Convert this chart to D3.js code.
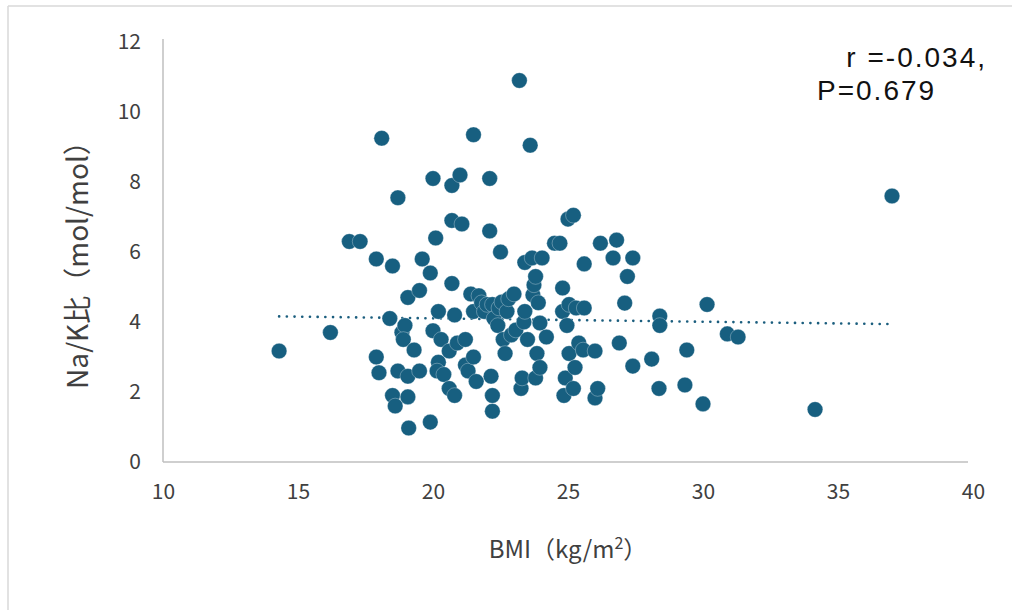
<!DOCTYPE html>
<html><head><meta charset="utf-8">
<script src="https://cdn.jsdelivr.net/npm/d3@7"></script>
<style>
html,body{margin:0;padding:0;background:#fff;}
svg{display:block;}
</style></head>
<body>
<svg id="chart" width="1012" height="610"></svg>
<script>
// BMI (kg/m2)
const bmi = [14.3,16.2,16.9,17.3,17.9,18.1,17.9,18.0,18.4,18.5,18.5,18.6,18.7,18.7,18.85,18.96,18.9,19.07,19.07,19.07,19.1,19.3,19.5,19.5,19.6,19.9,19.9,20.0,20.1,20.0,20.2,20.2,20.15,20.3,20.4,20.6,20.6,20.7,20.7,20.7,20.8,20.8,20.9,21.0,21.07,21.2,21.2,21.3,21.4,21.5,21.5,21.5,21.6,21.7,21.8,21.9,22.0,22.1,22.1,22.15,22.2,22.2,22.2,22.26,22.4,22.5,22.44,22.55,22.6,22.67,22.74,22.8,22.9,23.0,23.07,23.2,23.26,23.3,23.37,23.4,23.4,23.5,23.6,23.67,23.7,23.74,23.8,23.8,23.85,23.9,23.96,23.96,24.04,24.2,24.5,24.7,24.8,24.8,24.85,24.9,25.0,25.04,24.96,25.04,25.2,25.2,25.26,25.3,25.4,25.56,25.6,25.6,26.0,26.0,26.1,26.2,26.67,26.8,26.9,27.1,27.2,27.4,27.4,28.1,28.4,28.4,28.37,29.4,29.33,30.0,30.15,30.9,31.3,34.15,37.0];
// Na/K ratio (mol/mol)
const naK = [3.17,3.7,6.3,6.3,5.8,9.25,3.0,2.55,4.1,5.6,1.9,1.6,7.55,2.6,3.7,3.9,3.5,4.7,2.45,1.86,0.97,3.2,4.9,2.6,5.8,5.4,1.14,8.1,6.4,3.75,4.3,2.85,2.6,3.5,2.5,3.17,2.1,7.9,6.9,5.1,4.2,1.9,3.4,8.2,6.8,3.5,2.77,2.6,4.8,9.35,4.3,3.0,2.3,4.75,4.55,4.3,4.5,8.1,6.6,2.45,1.9,1.45,4.5,4.1,3.9,6.0,4.4,4.57,3.5,3.1,4.3,4.66,3.63,4.8,3.77,10.9,2.1,2.4,4.0,4.3,5.7,3.5,9.05,5.83,4.77,5.06,5.3,2.4,3.1,4.55,3.97,2.7,5.83,3.57,6.25,6.25,4.97,4.3,1.9,2.4,6.94,4.5,3.9,3.1,7.05,2.1,2.7,4.4,3.4,3.2,4.4,5.66,3.17,1.83,2.1,6.25,5.83,6.34,3.4,4.54,5.3,5.83,2.74,2.94,4.17,3.9,2.1,3.2,2.2,1.66,4.5,3.66,3.57,1.5,7.6];
const xTicks = [10,15,20,25,30,35,40];
const yTicks = [0,2,4,6,8,10,12];
const trendX = [14.3, 37.0];
const trendY = [4.16, 3.94];
const annotation = ["r =-0.034,", "P=0.679"];

const svg = d3.select("#chart");
const x = d3.scaleLinear().domain([10,40]).range([163,973]);
const y = d3.scaleLinear().domain([0,12]).range([462,42]);
const tickFont = "'Noto Sans CJK JP','Noto Sans',sans-serif";

// outer frame (left & top edges visible)
svg.append("line").attr("x1",8).attr("y1",6).attr("x2",8).attr("y2",610).attr("stroke","#d9d9d9").attr("stroke-width",1.5);
svg.append("line").attr("x1",8).attr("y1",6).attr("x2",1012).attr("y2",6).attr("stroke","#d9d9d9").attr("stroke-width",1.5);

// axes
const xAxis = d3.axisBottom(x).tickValues(xTicks).tickSize(0).tickPadding(22);
const yAxis = d3.axisLeft(y).tickValues(yTicks).tickSize(0).tickPadding(22);
const gx = svg.append("g").attr("transform",`translate(0,${y(0)})`).call(xAxis);
const gy = svg.append("g").attr("transform",`translate(${x(10)},0)`).call(yAxis);
[gx,gy].forEach(g=>{
  g.select(".domain").attr("stroke","#bfbfbf").attr("stroke-width",1.5);
  g.selectAll("text").attr("font-family",tickFont).attr("font-size",21).attr("fill","#404040");
});
gy.select(".domain").attr("d",`M0,${y(12)-3}V${y(0)}`);
gx.select(".domain").attr("d",`M${x(10)},0H${x(40)-5}`);

// trend line
svg.append("line")
  .attr("x1",x(trendX[0])).attr("y1",y(trendY[0]))
  .attr("x2",x(trendX[1])).attr("y2",y(trendY[1]))
  .attr("stroke","#1b5e7e").attr("stroke-width",2.6)
  .attr("stroke-linecap","round").attr("stroke-dasharray","0.1 7.6");

// points
svg.append("g").selectAll("circle").data(bmi.map((b,i)=>[b,naK[i]])).join("circle")
  .attr("cx",d=>x(d[0])).attr("cy",d=>y(d[1])).attr("r",7.8)
  .attr("fill","#175f80").attr("stroke","#ffffff").attr("stroke-width",0.6).attr("stroke-opacity",0.5);

// axis titles
svg.append("text").attr("x",568).attr("y",558).attr("text-anchor","middle")
  .attr("font-family",tickFont).attr("font-size",24).attr("fill","#404040")
  .call(t=>{t.append("tspan").text("BMI（kg/m");t.append("tspan").attr("dy",-9).attr("font-size",16).text("2");t.append("tspan").attr("dy",9).text("）");});
svg.append("text").attr("transform","translate(88,258) rotate(-90)").attr("text-anchor","middle")
  .attr("font-family",tickFont).attr("font-size",28).attr("fill","#404040")
  .text("Na/K比（mol/mol）");

// annotation (one text block, two lines)
const ann = svg.append("text").attr("font-family","'Liberation Sans',Arial,sans-serif").attr("font-size",28)
  .attr("fill","#111").attr("letter-spacing",2);
ann.append("tspan").attr("x",987).attr("y",67).attr("text-anchor","end").text(annotation[0]);
ann.append("tspan").attr("x",817).attr("y",100).attr("text-anchor","start").text(annotation[1]);
</script>
</body></html>
